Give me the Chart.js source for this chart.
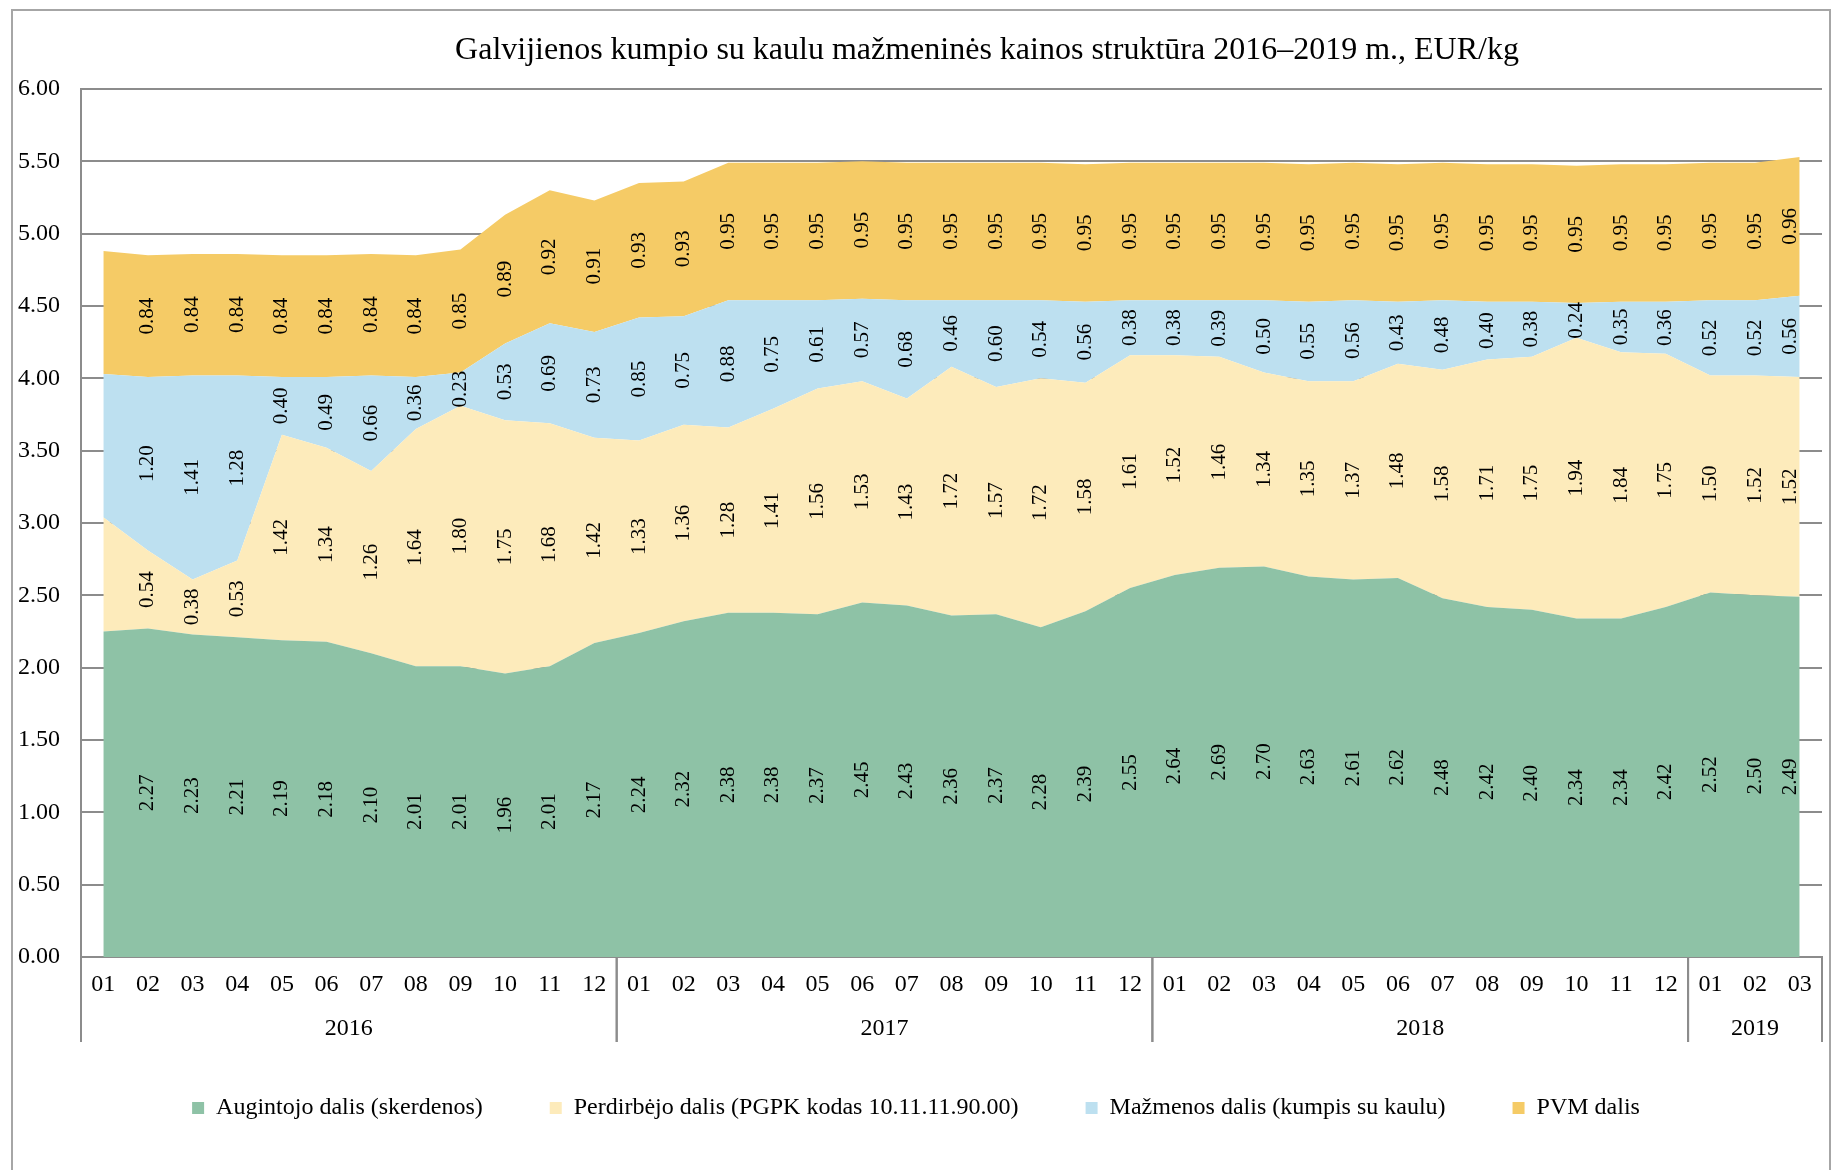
<!DOCTYPE html>
<html>
<head>
<meta charset="utf-8">
<title>Galvijienos kumpio kainos struktūra</title>
<script src="https://cdn.jsdelivr.net/npm/chart.js@4.4.1/dist/chart.umd.min.js"></script>
<style>
  body { margin: 0; background: #fff; }
  canvas { display: block; }
</style>
</head>
<body>
<canvas id="priceChart" width="1837" height="1170"></canvas>
<script>
const months = [
    '01', '02', '03', '04', '05', '06', '07', '08', '09', '10', '11', '12',
    '01', '02', '03', '04', '05', '06', '07', '08', '09', '10', '11', '12',
    '01', '02', '03', '04', '05', '06', '07', '08', '09', '10', '11', '12',
    '01', '02', '03'
];
const years = ['2016', '2017', '2018', '2019'];
const monthsPerYear = [12, 12, 12, 3];

const farmerShare = [
    2.25, 2.27, 2.23, 2.21, 2.19, 2.18, 2.10, 2.01, 2.01, 1.96, 2.01, 2.17,
    2.24, 2.32, 2.38, 2.38, 2.37, 2.45, 2.43, 2.36, 2.37, 2.28, 2.39, 2.55,
    2.64, 2.69, 2.70, 2.63, 2.61, 2.62, 2.48, 2.42, 2.40, 2.34, 2.34, 2.42,
    2.52, 2.50, 2.49
];
const processorShare = [
    0.79, 0.54, 0.38, 0.53, 1.42, 1.34, 1.26, 1.64, 1.80, 1.75, 1.68, 1.42,
    1.33, 1.36, 1.28, 1.41, 1.56, 1.53, 1.43, 1.72, 1.57, 1.72, 1.58, 1.61,
    1.52, 1.46, 1.34, 1.35, 1.37, 1.48, 1.58, 1.71, 1.75, 1.94, 1.84, 1.75,
    1.50, 1.52, 1.52
];
const retailShare = [
    0.99, 1.20, 1.41, 1.28, 0.40, 0.49, 0.66, 0.36, 0.23, 0.53, 0.69, 0.73,
    0.85, 0.75, 0.88, 0.75, 0.61, 0.57, 0.68, 0.46, 0.60, 0.54, 0.56, 0.38,
    0.38, 0.39, 0.50, 0.55, 0.56, 0.43, 0.48, 0.40, 0.38, 0.24, 0.35, 0.36,
    0.52, 0.52, 0.56
];
const vatShare = [
    0.85, 0.84, 0.84, 0.84, 0.84, 0.84, 0.84, 0.84, 0.85, 0.89, 0.92, 0.91,
    0.93, 0.93, 0.95, 0.95, 0.95, 0.95, 0.95, 0.95, 0.95, 0.95, 0.95, 0.95,
    0.95, 0.95, 0.95, 0.95, 0.95, 0.95, 0.95, 0.95, 0.95, 0.95, 0.95, 0.95,
    0.95, 0.95, 0.96
];
// the first month has no value labels in the original
const unlabelled = [0];

const seriesNames = [
    'Augintojo dalis (skerdenos)',
    'Perdirbėjo dalis (PGPK kodas 10.11.11.90.00)',
    'Mažmenos dalis (kumpis su kaulu)',
    'PVM dalis'
];
const seriesColors = ['#8ec2a6', '#fdebbb', '#bde0f0', '#f5cb66'];
const chartTitle = 'Galvijienos kumpio su kaulu mažmeninės kainos struktūra 2016–2019 m., EUR/kg';

const FONT = '"Liberation Serif", "Times New Roman", serif';
const gridColor = '#8c8c8c';

// white background, outer frame and the title (sits a bit right of centre in the original)
const frame = {
    id: 'frame',
    beforeDraw(chart) {
        const { ctx, width, height } = chart;
        ctx.save();
        ctx.fillStyle = '#fff';
        ctx.fillRect(0, 0, width, height);
        ctx.strokeStyle = '#a6a6a6';
        ctx.lineWidth = 2;
        ctx.strokeRect(12, 10, width - 19, height + 20);
        ctx.restore();
    },
    afterDraw(chart) {
        const { ctx } = chart;
        ctx.save();
        ctx.font = '32px ' + FONT;
        ctx.fillStyle = '#000';
        ctx.textAlign = 'center';
        ctx.textBaseline = 'middle';
        ctx.fillText(chartTitle, 987, 51);
        ctx.restore();
    }
};

// rotated value labels in the middle of each band
const bandLabels = {
    id: 'bandLabels',
    afterDatasetsDraw(chart) {
        const { ctx } = chart;
        const yScale = chart.scales.y;
        const last = months.length - 1;
        ctx.save();
        ctx.font = '21px ' + FONT;
        ctx.fillStyle = '#000';
        ctx.textAlign = 'center';
        ctx.textBaseline = 'middle';
        chart.data.datasets.forEach((ds, d) => {
            const points = chart.getDatasetMeta(d).data;
            points.forEach((pt, i) => {
                if (unlabelled.includes(i)) return;
                const base = d === 0 ? yScale.getPixelForValue(0) : chart.getDatasetMeta(d - 1).data[i].y;
                let x = pt.x;
                if (i === last) x -= 9;
                ctx.save();
                ctx.translate(x, (pt.y + base) / 2);
                ctx.rotate(-Math.PI / 2);
                ctx.fillText(ds.data[i].toFixed(2), 0, 0);
                ctx.restore();
            });
        });
        ctx.restore();
    }
};

// second row of the category axis: years with separators
const yearAxis = {
    id: 'yearAxis',
    afterDraw(chart) {
        const { ctx, chartArea } = chart;
        const xScale = chart.scales.x;
        const half = (xScale.getPixelForValue(1) - xScale.getPixelForValue(0)) / 2;
        const lineEnd = chartArea.bottom + 85;
        let start = 0;
        ctx.save();
        ctx.strokeStyle = gridColor;
        ctx.lineWidth = 2;
        ctx.font = '24px ' + FONT;
        ctx.fillStyle = '#000';
        ctx.textAlign = 'center';
        ctx.textBaseline = 'middle';
        years.forEach((year, k) => {
            const end = start + monthsPerYear[k] - 1;
            const left = xScale.getPixelForValue(start) - half;
            const right = xScale.getPixelForValue(end) + half;
            ctx.beginPath();
            ctx.moveTo(left, chartArea.bottom);
            ctx.lineTo(left, lineEnd);
            ctx.moveTo(right, chartArea.bottom);
            ctx.lineTo(right, lineEnd);
            ctx.stroke();
            ctx.fillText(year, (left + right) / 2, chartArea.bottom + 72);
            start = end + 1;
        });
        ctx.restore();
    }
};

const ctx = document.getElementById('priceChart').getContext('2d');
const chart = new Chart(ctx, {
    type: 'line',
    data: {
        labels: months,
        datasets: [farmerShare, processorShare, retailShare, vatShare].map((values, i) => ({
            label: seriesNames[i],
            data: values,
            backgroundColor: seriesColors[i],
            borderColor: seriesColors[i],
            borderWidth: 0,
            pointRadius: 0,
            fill: i === 0 ? 'origin' : '-1',
            tension: 0
        }))
    },
    options: {
        responsive: false,
        animation: false,
        devicePixelRatio: 1,
        layout: { padding: { top: 89, left: 10, right: 15, bottom: 40 } },
        scales: {
            x: {
                offset: true,
                grid: { display: false, drawTicks: false },
                border: { display: true, color: gridColor, width: 2 },
                ticks: {
                    autoSkip: false,
                    maxRotation: 0,
                    padding: 13,
                    color: '#000',
                    font: { family: FONT, size: 24 }
                },
                afterFit(scale) { scale.height = 72; }
            },
            y: {
                stacked: true,
                min: 0,
                max: 6,
                grid: { color: gridColor, lineWidth: 2, drawTicks: false },
                border: { display: true, color: gridColor, width: 2 },
                ticks: {
                    stepSize: 0.5,
                    padding: 21,
                    color: '#000',
                    font: { family: FONT, size: 24 },
                    callback: v => v.toFixed(2)
                },
                afterFit(scale) { scale.width = 71; }
            }
        },
        plugins: {
            title: { display: false },
            legend: {
                position: 'bottom',
                labels: {
                    color: '#000',
                    font: { family: FONT, size: 24 },
                    boxWidth: 12,
                    boxHeight: 12,
                    padding: 67
                }
            },
            tooltip: { enabled: false }
        }
    },
    plugins: [frame, bandLabels, yearAxis]
});
</script>
</body>
</html>
